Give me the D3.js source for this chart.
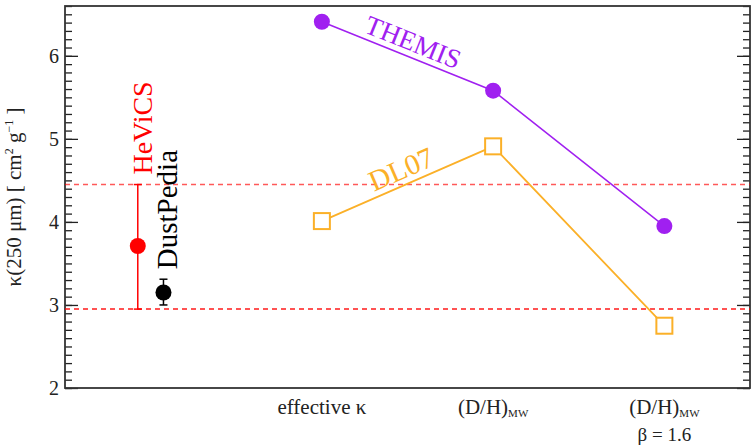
<!DOCTYPE html>
<html>
<head>
<meta charset="utf-8">
<script src="https://cdn.jsdelivr.net/npm/d3@7"></script>
<style>
  body { margin: 0; background: #fff; }
  svg text { font-family: "Liberation Serif", "Times New Roman", serif; }
</style>
</head>
<body>
<svg id="chart" width="753" height="445"></svg>
<script>
// model categories along x (index positions 1..3), observations sit near 0
var model_pos = [1, 2, 3];
var model_labels = ["effective κ", "(D/H)", "(D/H)"];
var model_subs = ["", "MW", "MW"];
var model_extra = ["", "", "β = 1.6"];

var themis_vals = [6.41, 5.58, 3.95];
var dl07_vals = [4.01, 4.91, 2.75];

// observational estimates: value, lower, upper
var obs_names = ["HeViCS", "DustPedia"];
var obs_pos = [-0.075, 0.075];
var obs_vals = [3.71, 3.15];
var obs_lo = [2.95, 3.00];
var obs_hi = [4.45, 3.31];

var band_vals = [4.45, 2.95];
var y_ticks = [2, 3, 4, 5, 6];

var svg = d3.select("#chart");
var pl = 65, pr = 750, pt = 6, pb = 388;

var x = d3.scaleLinear().domain([-0.5, 3.5]).range([pl, pr]);
var y = d3.scaleLinear().domain([2, 6.6]).range([pb, pt]);

var purple = "#a020f0", orange = "#fbb028", red = "#ff0000";

// minor ticks every 0.1
var minor = d3.range(20, 67).map(function(d) { return d / 10; });

svg.append("g")
    .attr("transform", "translate(" + pl + ",0)")
    .call(d3.axisLeft(y).tickValues(minor).tickSize(-7).tickFormat(""));
svg.append("g")
    .attr("transform", "translate(" + pr + ",0)")
    .call(d3.axisRight(y).tickValues(minor).tickSize(-7).tickFormat(""));

var yl = svg.append("g")
    .attr("transform", "translate(" + pl + ",0)")
    .call(d3.axisLeft(y).tickValues(y_ticks).tickSize(-13).tickPadding(6).tickFormat(d3.format("d")));
yl.attr("font-family", null);
yl.selectAll("text").style("font-size", "20px").attr("fill", "#222");
svg.append("g")
    .attr("transform", "translate(" + pr + ",0)")
    .call(d3.axisRight(y).tickValues(y_ticks).tickSize(-13).tickFormat(""));

svg.selectAll(".domain").remove();
svg.selectAll(".tick line").attr("stroke", "#222").attr("stroke-width", 1.3);

// frame
svg.append("rect")
    .attr("x", pl).attr("y", pt)
    .attr("width", pr - pl).attr("height", pb - pt)
    .attr("fill", "none").attr("stroke", "#333").attr("stroke-width", 1.8);

// y label
var ylab = svg.append("text")
    .attr("transform", "translate(21," + ((pt + pb) / 2) + ") rotate(-90)")
    .attr("text-anchor", "middle")
    .style("font-size", "21px").attr("fill", "#222");
ylab.append("tspan").text("κ(250 μm)  [ cm");
ylab.append("tspan").attr("dy", -8).style("font-size", "12px").text("2");
ylab.append("tspan").attr("dy", 8).text(" g");
ylab.append("tspan").attr("dy", -8).style("font-size", "12px").text("−1");
ylab.append("tspan").attr("dy", 8).text(" ]");

// dashed bands
svg.selectAll(".band")
    .data(band_vals)
    .enter().append("line")
    .attr("x1", pl).attr("x2", pr)
    .attr("y1", function(d) { return y(d); })
    .attr("y2", function(d) { return y(d); })
    .attr("stroke", red)
    .attr("stroke-opacity", function(d, i) { return i == 0 ? 0.65 : 0.9; })
    .attr("stroke-width", 1.5)
    .attr("stroke-dasharray", "5,4");

// x category labels
model_pos.forEach(function(p, i) {
    var t = svg.append("text")
        .attr("x", x(p)).attr("y", 414)
        .attr("text-anchor", "middle")
        .style("font-size", "21px").attr("fill", "#222");
    t.append("tspan").text(model_labels[i]);
    if (model_subs[i]) {
        t.append("tspan").attr("dy", 3).style("font-size", "11px").text(model_subs[i]);
    }
    if (model_extra[i]) {
        svg.append("text")
            .attr("x", x(p)).attr("y", 441)
            .attr("text-anchor", "middle")
            .style("font-size", "19px").attr("fill", "#222")
            .text(model_extra[i]);
    }
});

// model lines
var line = d3.line()
    .x(function(d, i) { return x(model_pos[i]); })
    .y(function(d) { return y(d); });

svg.append("path").datum(themis_vals)
    .attr("d", line).attr("fill", "none")
    .attr("stroke", purple).attr("stroke-width", 1.5);
svg.append("path").datum(dl07_vals)
    .attr("d", line).attr("fill", "none")
    .attr("stroke", orange).attr("stroke-width", 1.8);

svg.selectAll(".themis")
    .data(themis_vals)
    .enter().append("circle")
    .attr("cx", function(d, i) { return x(model_pos[i]); })
    .attr("cy", function(d) { return y(d); })
    .attr("r", 8)
    .attr("fill", purple);

svg.selectAll(".dl07")
    .data(dl07_vals)
    .enter().append("rect")
    .attr("x", function(d, i) { return x(model_pos[i]) - 8; })
    .attr("y", function(d) { return y(d) - 8; })
    .attr("width", 16).attr("height", 16)
    .attr("fill", "#fff")
    .attr("stroke", orange).attr("stroke-width", 2);

// labels along the first segment of each model line
function seg_label(vals, name, colour, frac, off, size) {
    var x0 = x(model_pos[0]), y0 = y(vals[0]);
    var x1 = x(model_pos[1]), y1 = y(vals[1]);
    var ang = Math.atan2(y1 - y0, x1 - x0);
    var px = x0 + (x1 - x0) * frac + Math.sin(ang) * off;
    var py = y0 + (y1 - y0) * frac - Math.cos(ang) * off;
    svg.append("text")
        .attr("transform", "translate(" + px + "," + py + ") rotate(" + (ang * 180 / Math.PI) + ")")
        .attr("text-anchor", "middle")
        .style("font-size", size + "px")
        .attr("fill", colour)
        .text(name);
}
seg_label(themis_vals, "THEMIS", purple, 0.5, 6, 27);
seg_label(dl07_vals, "DL07", orange, 0.5, 6, 29);

// observations with error bars
var obs_colours = [red, "#000"];
obs_vals.forEach(function(v, i) {
    var cx = x(obs_pos[i]);
    svg.append("line")
        .attr("x1", cx).attr("x2", cx)
        .attr("y1", y(obs_lo[i])).attr("y2", y(obs_hi[i]))
        .attr("stroke", obs_colours[i]).attr("stroke-width", 1.5);
    [obs_lo[i], obs_hi[i]].forEach(function(e) {
        svg.append("line")
            .attr("x1", cx - 4).attr("x2", cx + 4)
            .attr("y1", y(e)).attr("y2", y(e))
            .attr("stroke", obs_colours[i]).attr("stroke-width", 1.5);
    });
    svg.append("circle")
        .attr("cx", cx).attr("cy", y(v)).attr("r", 8)
        .attr("fill", obs_colours[i]);
    svg.append("text")
        .attr("transform", "translate(" + (cx + 14) + "," + (y(obs_hi[i]) - 10) + ") rotate(-90)")
        .attr("text-anchor", "start")
        .style("font-size", (i == 0 ? 28 : 29) + "px")
        .attr("fill", obs_colours[i])
        .text(obs_names[i]);
});
</script>
</body>
</html>
